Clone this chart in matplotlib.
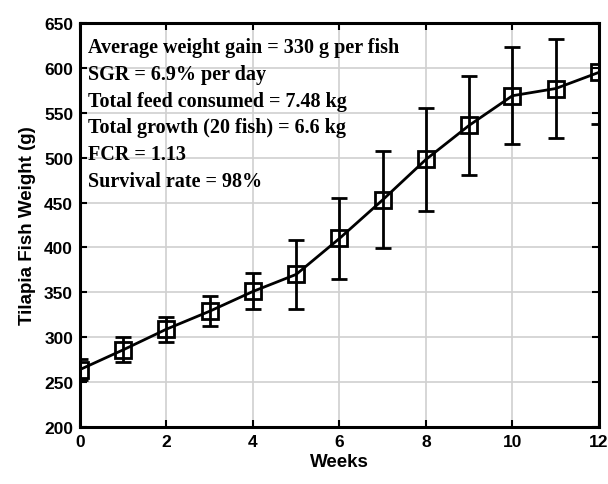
import matplotlib
matplotlib.use("Agg")
import matplotlib.pyplot as plt

weeks = [0, 1, 2, 3, 4, 5, 6, 7, 8, 9, 10, 11, 12]
weight = [264, 286, 309, 329, 351, 370, 410, 453, 498, 536, 569, 577, 595]
err = [12, 14, 14, 17, 20, 38, 45, 54, 57, 55, 54, 55, 57]
xticks = [0, 2, 4, 6, 8, 10, 12]
yticks = [200, 250, 300, 350, 400, 450, 500, 550, 600, 650]
notes = ["Average weight gain = 330 g per fish",
         "SGR = 6.9% per day",
         "Total feed consumed = 7.48 kg",
         "Total growth (20 fish) = 6.6 kg",
         "FCR = 1.13",
         "Survival rate = 98%"]

fig = plt.figure(figsize=(6.08, 4.85), dpi=100)
ax = fig.add_axes([0.1316, 0.1175, 0.8534, 0.833])
ax.errorbar(weeks, weight, yerr=err, color='black', lw=2, marker='s', ms=11,
            mfc='none', mec='black', mew=2, capsize=6, capthick=2, elinewidth=2,
            clip_on=True)
ax.set_xlim(0, 12)
ax.set_ylim(200, 650)
ax.set_xticks(xticks)
ax.set_yticks(yticks)
ax.grid(True, color='#d0d0d0', lw=1.2)
ax.set_axisbelow(True)
for s in ax.spines.values():
    s.set_linewidth(2.2)
ax.tick_params(direction='in', top=True, right=True, length=5, width=1.5,
               labelsize=12.5, pad=5)
for lab in ax.get_xticklabels() + ax.get_yticklabels():
    lab.set_fontweight('bold')
    lab.set_family('Liberation Sans')
ax.set_xlabel('Weeks', fontsize=13.5, fontweight='bold', family='Liberation Sans', labelpad=3)
ax.set_ylabel('Tilapia Fish Weight (g)', fontsize=13.5, fontweight='bold', family='Liberation Sans', labelpad=6)
ax.text(0.016, 0.965, "\n".join(notes), transform=ax.transAxes, va='top', ha='left',
        family='Liberation Serif', fontweight='bold', fontsize=14.5, linespacing=1.45)
fig.savefig('out.png', dpi=100)
